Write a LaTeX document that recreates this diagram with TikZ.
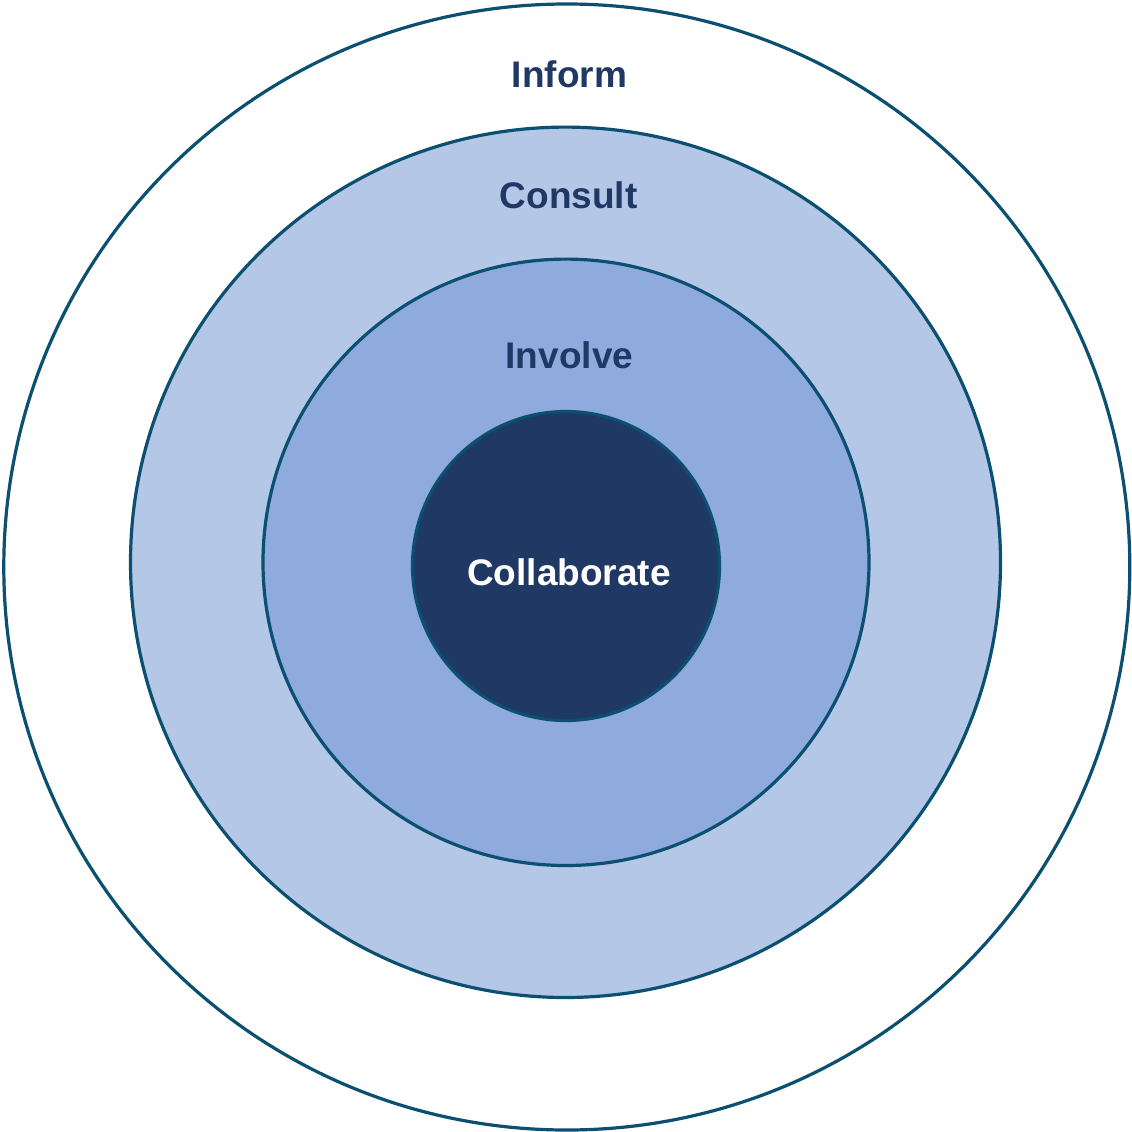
\documentclass[tikz,border=0pt]{standalone}
\usepackage{fontspec}
\setmainfont{Liberation Sans}
\definecolor{ringline}{HTML}{0B4F71}
\definecolor{consultfill}{HTML}{B4C7E7}
\definecolor{involvefill}{HTML}{8FAADC}
\definecolor{collabfill}{HTML}{1F3864}
\definecolor{labeltext}{HTML}{1F3864}
\tikzset{
  ring/.style={draw=ringline, line width=3.2pt},
  lbl/.style={anchor=base, inner sep=0pt, font=\fontsize{37}{44}\selectfont\bfseries, text=labeltext},
}
\begin{document}
\begin{tikzpicture}[x=1pt,y=-1pt]
\useasboundingbox (0,0) rectangle (1132,1132);
\fill[white] (0,0) rectangle (1132,1132);
\draw[ring, fill=white] (566.8,567) ellipse [x radius=563pt, y radius=563pt];
\draw[ring, fill=consultfill] (565.5,562.3) ellipse [x radius=435pt, y radius=435.2pt];
\draw[ring, fill=involvefill] (566,562.3) ellipse [x radius=303pt, y radius=303.2pt];
\draw[ring, fill=collabfill] (566,566) ellipse [x radius=153.5pt, y radius=154.5pt];
\node[lbl] (inform) at (569.5,87) {Inform};
\node[lbl] (consult) at (568.7,208.5) {Consult};
\node[lbl] (involve) at (569.4,368) {Involve};
\node[lbl, text=white] (collab) at (569,585.5) {Collaborate};
\end{tikzpicture}
\end{document}
